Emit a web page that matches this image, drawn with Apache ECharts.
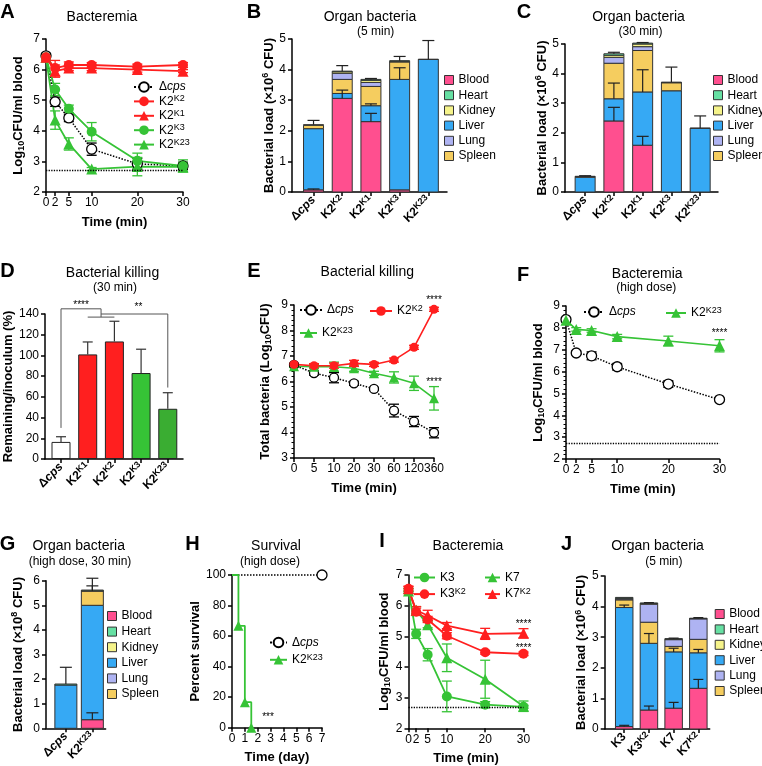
<!DOCTYPE html>
<html><head><meta charset="utf-8">
<script src="https://cdn.jsdelivr.net/npm/echarts@6/dist/echarts.min.js"></script>
<style>html,body{margin:0;padding:0;background:#fff}#c{width:762px;height:766px}</style>
</head><body><div id="c"></div>
<script>
// ================= DATA =================
const detectionLimit = 2.7;
const organs = ['Blood', 'Heart', 'Kidney', 'Liver', 'Lung', 'Spleen'];
const stackOrder = ['Blood', 'Liver', 'Spleen', 'Lung', 'Kidney', 'Heart'];

// A: Bacteremia
const timeA = [0, 2, 5, 10, 20, 30];
const aDcps = [6.45, 4.95, 4.42, 3.40, 2.92, 2.85];
const aDcpsErr = [0.08, 0.15, 0.12, 0.20, 0.18, 0.12];
const aK2K2 = [6.40, 6.05, 6.15, 6.15, 6.10, 6.15];
const aK2K2Err = [0.10, 0.25, 0.10, 0.08, 0.08, 0.08];
const aK2K1 = [6.40, 5.95, 6.05, 6.05, 6.00, 5.95];
const aK2K1Err = [0.10, 0.20, 0.08, 0.08, 0.08, 0.05];
const aK2K3 = [6.40, 5.35, 4.72, 3.97, 3.02, 2.85];
const aK2K3Err = [0.10, 0.20, 0.12, 0.30, 0.25, 0.20];
const aK2K23 = [6.40, 4.35, 3.57, 2.75, 2.83, 2.82];
const aK2K23Err = [0.10, 0.30, 0.20, 0.05, 0.30, 0.15];

// B: Organ bacteria (5 min)
const bGroups = ['Δcps', 'K2^K2', 'K2^K1', 'K2^K3', 'K2^K23'];
const bBlood  = [0.07, 3.06, 2.30, 0.07, 0.00];
const bHeart  = [0.00, 0.02, 0.03, 0.02, 0.01];
const bKidney = [0.02, 0.05, 0.07, 0.02, 0.00];
const bLiver  = [2.00, 0.16, 0.52, 3.61, 4.33];
const bLung   = [0.00, 0.20, 0.13, 0.00, 0.00];
const bSpleen = [0.11, 0.46, 0.63, 0.57, 0.00];
const bBloodErr = [0.03, 0.27, 0.27, 0.00, 0.00];
const bLiverErr = [0.00, 0.00, 0.06, 0.38, 0.00];
const bTopErr   = [0.14, 0.18, 0.03, 0.14, 0.61];

// C: Organ bacteria (30 min)
const cGroups = ['Δcps', 'K2^K2', 'K2^K1', 'K2^K3', 'K2^K23'];
const cBlood  = [0.00, 2.40, 1.58, 0.00, 0.00];
const cHeart  = [0.01, 0.05, 0.03, 0.01, 0.01];
const cKidney = [0.00, 0.07, 0.09, 0.01, 0.00];
const cLiver  = [0.50, 0.75, 1.80, 3.42, 2.15];
const cLung   = [0.00, 0.20, 0.13, 0.00, 0.00];
const cSpleen = [0.02, 1.20, 1.40, 0.27, 0.00];
const cBloodErr = [0.00, 0.46, 0.30, 0.00, 0.00];
const cLiverErr = [0.00, 0.53, 0.75, 0.00, 0.00];
const cTopErr   = [0.02, 0.05, 0.02, 0.51, 0.41];

// D: Bacterial killing (30 min)
const dGroups = ['Δcps', 'K2^K1', 'K2^K2', 'K2^K3', 'K2^K23'];
const dValues = [16.5, 101, 113.5, 83, 48.5];
const dErr = [5, 12, 19.5, 23, 15.5];
const dSigText = ['****', '**'];
const dSigX = [0.75, 2.9];
const dSigY = [150.5, 148];
const dBracketX = [[0, 0, 1.5, 1.5], [1, 2], [1.5, 4, 4]];
const dBracketY = [[30, 145, 145, 137], [137, 137], [140, 140, 69]];

// E: Bacterial killing (time course)
const eTimes = ['0', '5', '10', '20', '30', '60', '120', '360'];
const eDcps = [6.65, 6.33, 6.15, 5.93, 5.71, 4.86, 4.43, 3.99];
const eDcpsErr = [0.05, 0.08, 0.20, 0.08, 0.06, 0.25, 0.20, 0.20];
const eK2K2 = [6.67, 6.62, 6.62, 6.71, 6.67, 6.84, 7.34, 8.83];
const eK2K2Err = [0.05, 0.08, 0.10, 0.12, 0.08, 0.08, 0.08, 0.08];
const eK2K23 = [6.60, 6.58, 6.58, 6.52, 6.32, 6.16, 5.93, 5.34];
const eK2K23Err = [0.05, 0.08, 0.18, 0.12, 0.08, 0.22, 0.28, 0.46];
const eSigText = ['****', '****'];
const eSigX = [7, 7];
const eSigY = [9.27, 6.06];

// F: Bacteremia (high dose)
const timeF = [0, 2, 5, 10, 20, 30];
const fDcps = [8.38, 6.85, 6.72, 6.22, 5.43, 4.72];
const fDcpsErr = [0.08, 0.08, 0.18, 0.15, 0.15, 0.05];
const fK2K23 = [8.35, 7.93, 7.88, 7.60, 7.40, 7.18];
const fK2K23Err = [0.08, 0.08, 0.08, 0.10, 0.22, 0.28];
const fSigText = ['****'];
const fSigX = [30];
const fSigY = [7.84];

// G: Organ bacteria (high dose, 30 min)
const gGroups = ['Δcps', 'K2^K23'];
const gBlood  = [0.00, 0.35];
const gHeart  = [0.04, 0.03];
const gKidney = [0.00, 0.01];
const gLiver  = [1.76, 4.65];
const gLung   = [0.00, 0.00];
const gSpleen = [0.00, 0.58];
const gBloodErr  = [0.00, 0.28];
const gSpleenErr = [0.00, 0.21];
const gTopErr    = [0.68, 0.48];

// H: Survival (high dose)
const hDaysDcps = [0, 7];
const hDcps = [100, 100];
const hDaysK2K23 = [0, 0.5, 1, 1.5];
const hK2K23 = [100, 66.7, 16.7, 0];
const hSigText = ['***'];
const hSigX = [2.8];
const hSigY = [8.3];

// I: Bacteremia
const timeI = [0, 2, 5, 10, 20, 30];
const iK3 = [6.48, 5.08, 4.40, 3.04, 2.77, 2.70];
const iK3Err = [0.08, 0.15, 0.20, 0.50, 0.10, 0.05];
const iK3K2 = [6.55, 5.80, 5.55, 5.02, 4.48, 4.43];
const iK3K2Err = [0.08, 0.12, 0.10, 0.10, 0.06, 0.06];
const iK7 = [6.48, 5.85, 5.38, 4.30, 3.60, 2.72];
const iK7Err = [0.08, 0.12, 0.10, 0.45, 0.62, 0.17];
const iK7K2 = [6.55, 5.85, 5.68, 5.35, 5.08, 5.10];
const iK7K2Err = [0.08, 0.12, 0.17, 0.10, 0.18, 0.15];
const iSigText = ['****', '****'];
const iSigX = [30, 30];
const iSigY = [5.47, 4.68];

// J: Organ bacteria (5 min)
const jGroups = ['K3', 'K3^K2', 'K7', 'K7^K2'];
const jBlood  = [0.08, 0.62, 0.68, 1.33];
const jHeart  = [0.03, 0.02, 0.01, 0.01];
const jKidney = [0.02, 0.02, 0.02, 0.01];
const jLiver  = [3.89, 2.18, 1.84, 1.16];
const jLung   = [0.03, 0.59, 0.22, 0.67];
const jSpleen = [0.25, 0.69, 0.18, 0.44];
const jBloodErr = [0.04, 0.13, 0.19, 0.29];
const jLiverErr = [0.08, 0.32, 0.12, 0.11];
const jTopErr   = [0.00, 0.01, 0.02, 0.02];

// ================= STYLE =================
const FONT = '"Liberation Sans", Arial, Helvetica, sans-serif';
const RED = '#ff1f1f', GREEN = '#36c336', GREEN2 = '#3aad32';
const organColors = {Blood: '#ff4f8f', Heart: '#66e0a3', Kidney: '#f5f38a', Liver: '#36a9f4', Lung: '#aeb3f2', Spleen: '#f5cd5f'};

const richLab = {
  b: {fontFamily: FONT, fontWeight: 'bold', fontSize: 12, lineHeight: 14, color: '#000'},
  bi: {fontFamily: FONT, fontWeight: 'bold', fontStyle: 'italic', fontSize: 12, lineHeight: 14, color: '#000'},
  s: {fontFamily: FONT, fontWeight: 'bold', fontSize: 9, lineHeight: 6, verticalAlign: 'top', color: '#000'}
};
const richLeg = {
  n: {fontFamily: FONT, fontSize: 12, lineHeight: 14, color: '#000'},
  i: {fontFamily: FONT, fontSize: 12, fontStyle: 'italic', lineHeight: 14, color: '#000'},
  s: {fontFamily: FONT, fontSize: 9, lineHeight: 6, verticalAlign: 'top', color: '#000'}
};
const richName = {
  b: {fontFamily: FONT, fontWeight: 'bold', fontSize: 13, lineHeight: 16, color: '#000'},
  sub: {fontFamily: FONT, fontWeight: 'bold', fontSize: 9, lineHeight: 9, verticalAlign: 'bottom', color: '#000'},
  sup: {fontFamily: FONT, fontWeight: 'bold', fontSize: 9, lineHeight: 7, verticalAlign: 'top', color: '#000'}
};

function fmtLabel(s, bold) {
  const B = bold ? 'b' : 'n', I = bold ? 'bi' : 'i';
  if (s === 'Δcps') return '{' + B + '|Δ}{' + I + '|cps}';
  const parts = s.split('^');
  return parts[1] ? '{' + B + '|' + parts[0] + '}{s|' + parts[1] + '}' : '{' + B + '|' + parts[0] + '}';
}

// ================= GRIDS =================
const grids = [
  {left: 46, top: 39, width: 137, height: 153},      // A
  {left: 292, top: 39, width: 155, height: 153},     // B
  {left: 565, top: 44, width: 153, height: 148},     // C
  {left: 45, top: 314, width: 138, height: 145},     // D
  {left: 294, top: 305, width: 140, height: 153},    // E
  {left: 566, top: 306, width: 153.5, height: 153},  // F
  {left: 46, top: 580.7, width: 59.6, height: 147.6},// G
  {left: 232, top: 575, width: 90, height: 152.7},   // H
  {left: 408.5, top: 575, width: 115, height: 153.3},// I
  {left: 604.7, top: 576, width: 105, height: 153}   // J
];

const lineAx = {show: true, onZero: false, lineStyle: {color: '#000', width: 1.5}};
const tickAx = (vals) => {
  const t = {show: true, length: 4, lineStyle: {color: '#000', width: 1.5}};
  if (vals) t.customValues = vals;
  return t;
};
const nameStyle = {fontFamily: FONT, fontWeight: 'bold', fontSize: 13, color: '#000', rich: richName};

function xTime(gi, min, max, vals, fmt, name) {
  const lab = {color: '#000', fontSize: 12, fontFamily: FONT, margin: 5};
  if (vals) lab.customValues = vals;
  if (fmt) lab.formatter = fmt;
  return {gridIndex: gi, type: 'value', min, max, axisLine: lineAx, axisTick: tickAx(vals), axisLabel: lab,
    splitLine: {show: false}, name, nameLocation: 'middle', nameGap: 23.5, nameTextStyle: nameStyle};
}
function xBars(gi, min, max, groups) {
  const vals = groups.map((_, i) => i);
  return {gridIndex: gi, type: 'value', min, max, axisLine: lineAx, axisTick: tickAx(vals),
    axisLabel: {customValues: vals, rotate: 45, margin: 6, rich: richLab, fontFamily: FONT,
      formatter: (v) => fmtLabel(groups[Math.round(v)], true)},
    splitLine: {show: false}};
}
function yVal(gi, min, max, interval, name, gap, minor) {
  const ax = {gridIndex: gi, type: 'value', min, max, interval, axisLine: lineAx, axisTick: tickAx(),
    axisLabel: {color: '#000', fontSize: 12, fontFamily: FONT, margin: 6}, splitLine: {show: false},
    name, nameLocation: 'middle', nameGap: gap, nameRotate: 90, nameTextStyle: nameStyle};
  if (minor) ax.minorTick = {show: true, splitNumber: 5, length: 2.5, lineStyle: {color: '#000', width: 1}};
  return ax;
}

const logName = '{b|Log}{sub|10}{b|CFU/ml blood}';
const xAxes = [
  xTime(0, 0, 30, timeA, null, 'Time (min)'),
  xBars(1, -0.75, 4.65, bGroups),
  xBars(2, -0.7, 4.62, cGroups),
  xBars(3, -0.6, 4.57, dGroups),
  xTime(4, 0, 7, eTimes.map((_, i) => i), (v) => eTimes[Math.round(v)], 'Time (min)'),
  xTime(5, 0, 30, timeF, null, 'Time (min)'),
  xBars(6, -0.75, 1.5, gGroups),
  Object.assign(xTime(7, 0, 7, null, null, 'Time (day)'), {interval: 1}),
  xTime(8, 0, 30, timeI, null, 'Time (min)'),
  xBars(9, -0.79, 3.46, jGroups)
];
const yAxes = [
  yVal(0, 2, 7, 1, logName, 20),
  yVal(1, 0, 5, 1, '{b|Bacterial load (×10}{sup|6}{b| CFU)}', 14),
  yVal(2, 0, 5, 1, '{b|Bacterial load (×10}{sup|6}{b| CFU)}', 9),
  yVal(3, 0, 140, 20, '{b|Remaining/inoculum (%)}', 26),
  yVal(4, 3, 9, 1, '{b|Total bacteria (Log}{sub|10}{b|CFU)}', 21, true),
  yVal(5, 2, 9, 1, logName, 20, true),
  yVal(6, 0, 6, 1, '{b|Bacterial load (×10}{sup|8}{b| CFU)}', 20),
  yVal(7, 0, 100, 20, '{b|Percent survival}', 26),
  yVal(8, 2, 7, 1, logName, 16),
  yVal(9, 0, 5, 1, '{b|Bacterial load (×10}{sup|6}{b| CFU)}', 13)
];

// ================= SERIES =================
const series = [];

function errSeries(gi, xs, ys, errs, color, cap, upOnly, lw, z) {
  return {type: 'custom', xAxisIndex: gi, yAxisIndex: gi, z: z || 2, silent: true, clip: false,
    data: xs.map((x, i) => [x, ys[i], errs[i]]),
    renderItem: (p, api) => {
      const x = api.value(0), y = api.value(1), e = api.value(2);
      if (!(e > 0)) return null;
      const t = api.coord([x, y + e]), b = api.coord([x, upOnly ? y : y - e]);
      const st = {stroke: color, lineWidth: lw || 1.3, fill: null};
      const ch = [
        {type: 'line', shape: {x1: t[0], y1: t[1], x2: b[0], y2: b[1]}, style: st},
        {type: 'line', shape: {x1: t[0] - cap, y1: t[1], x2: t[0] + cap, y2: t[1]}, style: st}
      ];
      if (!upOnly) ch.push({type: 'line', shape: {x1: b[0] - cap, y1: b[1], x2: b[0] + cap, y2: b[1]}, style: st});
      return {type: 'group', children: ch};
    }};
}

function textSeries(gi, xs, ys, texts, size) {
  return {type: 'custom', xAxisIndex: gi, yAxisIndex: gi, z: 6, silent: true, clip: false,
    data: xs.map((x, i) => [x, ys[i]]),
    renderItem: (p, api) => {
      const c = api.coord([api.value(0), api.value(1)]);
      return {type: 'text', x: c[0], y: c[1] + 2, style: {text: texts[p.dataIndex], fill: '#000', fontSize: size,
        fontFamily: FONT, align: 'center', verticalAlign: 'middle', textAlign: 'center', textVerticalAlign: 'middle'}};
    }};
}

function addLines(gi, xs, specs, opt) {
  specs.forEach(s => {
    series.push(errSeries(gi, xs, s.ys, s.err, s.open ? '#000' : s.color, opt.cap, false, 1.3, 2));
  });
  specs.forEach((s, k) => {
    const ser = {
      type: 'line', name: s.name, xAxisIndex: gi, yAxisIndex: gi, z: 3, clip: false,
      data: xs.map((x, i) => [x, s.ys[i]]),
      symbol: s.sym || 'circle',
      symbolSize: s.sym === 'triangle' ? opt.sym + 1 : opt.sym,
      itemStyle: s.open ? {color: '#fff', borderColor: '#000', borderWidth: 1.3} : {color: s.color},
      lineStyle: s.open ? {color: '#000', type: 'dotted', width: 1.5} : {color: s.color, width: opt.lw}
    };
    if (k === 0 && opt.limit) {
      ser.markLine = {silent: true, symbol: ['none', 'none'], label: {show: false},
        lineStyle: {color: '#000', type: 'dotted', width: 1.3}, data: [{yAxis: detectionLimit}]};
    }
    series.push(ser);
  });
}

function addStack(gi, organData, errData, barW, cap) {
  const n = organData.Blood.length;
  const cum = new Array(n).fill(0);
  const tops = {};
  stackOrder.forEach(org => {
    const vals = organData[org];
    const rows = vals.map((v, i) => { const b = cum[i]; cum[i] += v; return [i, b, cum[i]]; });
    tops[org] = cum.slice();
    const col = organColors[org];
    series.push({type: 'custom', name: org, xAxisIndex: gi, yAxisIndex: gi, z: 2, clip: false,
      itemStyle: {color: col, borderColor: '#333', borderWidth: 1},
      data: rows, encode: {x: 0, y: [1, 2]},
      renderItem: (p, api) => {
        const x = api.value(0), b = api.value(1), t = api.value(2);
        if (!(t > b)) return null;
        const p0 = api.coord([x, b]), p1 = api.coord([x, t]);
        return {type: 'rect', shape: {x: p0[0] - barW / 2, y: p1[1], width: barW, height: p0[1] - p1[1]},
          style: {fill: col, stroke: '#333', lineWidth: 1}};
      }});
  });
  Object.keys(errData).forEach(k => {
    const base = k === 'top' ? cum : tops[k];
    series.push(errSeries(gi, base.map((_, i) => i), base, errData[k], '#222', cap, true, 1.2, 4));
  });
}

// A
addLines(0, timeA, [
  {name: 'A:Δcps', ys: aDcps, err: aDcpsErr, open: true},
  {name: 'A:K2^K3', ys: aK2K3, err: aK2K3Err, color: GREEN, sym: 'circle'},
  {name: 'A:K2^K23', ys: aK2K23, err: aK2K23Err, color: GREEN, sym: 'triangle'},
  {name: 'A:K2^K1', ys: aK2K1, err: aK2K1Err, color: RED, sym: 'triangle'},
  {name: 'A:K2^K2', ys: aK2K2, err: aK2K2Err, color: RED, sym: 'circle'}
], {cap: 5, sym: 10, lw: 1.8, limit: true});

// B, C
addStack(1, {Blood: bBlood, Heart: bHeart, Kidney: bKidney, Liver: bLiver, Lung: bLung, Spleen: bSpleen},
  {Blood: bBloodErr, Liver: bLiverErr, top: bTopErr}, 20, 6);
addStack(2, {Blood: cBlood, Heart: cHeart, Kidney: cKidney, Liver: cLiver, Lung: cLung, Spleen: cSpleen},
  {Blood: cBloodErr, Liver: cLiverErr, top: cTopErr}, 20, 6);

// D
const dColors = ['#ffffff', RED, RED, GREEN, GREEN2];
series.push({type: 'bar', xAxisIndex: 3, yAxisIndex: 3, barWidth: 19, z: 2,
  itemStyle: {borderColor: '#222', borderWidth: 1},
  data: dValues.map((v, i) => ({value: [i, v], itemStyle: {color: dColors[i]}}))});
series.push(errSeries(3, dValues.map((_, i) => i), dValues, dErr, '#333', 5, true, 1.2, 4));
series.push({type: 'custom', xAxisIndex: 3, yAxisIndex: 3, z: 5, silent: true, clip: false,
  data: dBracketX.map((_, i) => [i, 0]),
  renderItem: (p, api) => {
    const i = p.dataIndex;
    const pts = dBracketX[i].map((x, k) => api.coord([x, dBracketY[i][k]]));
    return {type: 'polyline', shape: {points: pts}, style: {stroke: '#555', lineWidth: 1, fill: null}};
  }});
series.push(textSeries(3, dSigX, dSigY, dSigText, 10));

// E
addLines(4, eTimes.map((_, i) => i), [
  {name: 'E:Δcps', ys: eDcps, err: eDcpsErr, open: true},
  {name: 'E:K2^K23', ys: eK2K23, err: eK2K23Err, color: GREEN, sym: 'triangle'},
  {name: 'E:K2^K2', ys: eK2K2, err: eK2K2Err, color: RED, sym: 'circle'}
], {cap: 5, sym: 9, lw: 1.6});
series.push(textSeries(4, eSigX, eSigY, eSigText, 10));

// F
addLines(5, timeF, [
  {name: 'F:Δcps', ys: fDcps, err: fDcpsErr, open: true},
  {name: 'F:K2^K23', ys: fK2K23, err: fK2K23Err, color: GREEN, sym: 'triangle'}
], {cap: 5, sym: 10, lw: 1.6, limit: true});
series.push(textSeries(5, fSigX, fSigY, fSigText, 10));

// G
addStack(6, {Blood: gBlood, Heart: gHeart, Kidney: gKidney, Liver: gLiver, Lung: gLung, Spleen: gSpleen},
  {Blood: gBloodErr, Spleen: gSpleenErr, top: gTopErr}, 22, 6);

// H
series.push({type: 'line', name: 'H:Δcps', xAxisIndex: 7, yAxisIndex: 7, z: 3, clip: false,
  data: hDaysDcps.map((d, i) => ({value: [d, hDcps[i]], symbol: i === hDaysDcps.length - 1 ? 'circle' : 'none'})),
  symbol: 'circle', symbolSize: 10,
  itemStyle: {color: '#fff', borderColor: '#000', borderWidth: 1.3},
  lineStyle: {color: '#000', type: 'dotted', width: 1.5}});
series.push({type: 'line', name: 'H:K2^K23', step: 'end', xAxisIndex: 7, yAxisIndex: 7, z: 4, clip: false,
  data: hDaysK2K23.map((d, i) => ({value: [d, hK2K23[i]], symbol: i === 0 ? 'none' : 'triangle'})),
  symbol: 'triangle', symbolSize: 10,
  itemStyle: {color: GREEN}, lineStyle: {color: GREEN, width: 1.8}});
series.push(textSeries(7, hSigX, hSigY, hSigText, 10));

// I
addLines(8, timeI, [
  {name: 'I:K3', ys: iK3, err: iK3Err, color: GREEN, sym: 'circle'},
  {name: 'I:K7', ys: iK7, err: iK7Err, color: GREEN, sym: 'triangle'},
  {name: 'I:K3^K2', ys: iK3K2, err: iK3K2Err, color: RED, sym: 'circle'},
  {name: 'I:K7^K2', ys: iK7K2, err: iK7K2Err, color: RED, sym: 'triangle'}
], {cap: 5, sym: 10, lw: 1.8, limit: true});
series.push(textSeries(8, iSigX, iSigY, iSigText, 10));

// J
addStack(9, {Blood: jBlood, Heart: jHeart, Kidney: jKidney, Liver: jLiver, Lung: jLung, Spleen: jSpleen},
  {Blood: jBloodErr, Liver: jLiverErr, top: jTopErr}, 17.5, 5);

// ================= LEGENDS =================
function lineLegend(names, left, top, itemWidth, gap, orient) {
  return {data: names, left, top, orient: orient || 'vertical', itemWidth, itemHeight: 12, itemGap: gap || 0,
    padding: 0, selectedMode: false,
    formatter: (n) => fmtLabel(n.slice(n.indexOf(':') + 1), false),
    textStyle: {fontFamily: FONT, fontSize: 12, color: '#000', rich: richLeg}};
}
function organLegend(left, top, gap) {
  return {data: organs, left, top, orient: 'vertical', icon: 'rect', itemWidth: 9, itemHeight: 9, itemGap: gap,
    padding: 0, selectedMode: false, itemStyle: {borderColor: '#333', borderWidth: 1},
    formatter: (n) => '{n|' + n + '}',
    textStyle: {fontFamily: FONT, fontSize: 12, color: '#000', rich: richLeg}};
}
const legends = [
  lineLegend(['A:Δcps', 'A:K2^K2', 'A:K2^K1', 'A:K2^K3', 'A:K2^K23'], 133, 81, 20, 1.4),
  organLegend(444, 74, 3.2),
  organLegend(713, 74, 3.2),
  lineLegend(['E:Δcps'], 299, 304, 22),
  lineLegend(['E:K2^K2'], 369, 304, 22),
  lineLegend(['E:K2^K23'], 299, 326, 17),
  lineLegend(['F:Δcps'], 583, 306, 20),
  lineLegend(['F:K2^K23'], 665, 306, 20),
  organLegend(107, 610, 3.6),
  lineLegend(['H:Δcps', 'H:K2^K23'], 269, 636.5, 17, 4.3),
  lineLegend(['I:K3', 'I:K3^K2'], 413, 571.5, 21, 3.6),
  lineLegend(['I:K7', 'I:K7^K2'], 484, 571.5, 15, 3.6),
  organLegend(714.7, 608, 3.4)
];

// ================= TITLES / PANEL LETTERS =================
const letters = [['A', 7.5, 12], ['B', 254, 12], ['C', 524, 12], ['D', 7.5, 271], ['E', 254, 271], ['F', 523, 275],
  ['G', 7.5, 544], ['H', 192.5, 544], ['I', 382, 541], ['J', 566.5, 544]];
const mainTitles = [['Bacteremia', 102, 17], ['Organ bacteria', 370, 16.7], ['Organ bacteria', 638.5, 16.7],
  ['Bacterial killing', 112.5, 273], ['Bacterial killing', 367.3, 272.5], ['Bacteremia', 647.2, 273.7],
  ['Organ bacteria', 78.7, 545.7], ['Survival', 276, 545.7], ['Bacteremia', 468, 546], ['Organ bacteria', 657.5, 545.7]];
const subTitles = [['(5 min)', 375.7, 32], ['(30 min)', 640.5, 32], ['(30 min)', 115, 287.5], ['(high dose)', 646.3, 287.5],
  ['(high dose, 30 min)', 80, 561.7], ['(high dose)', 270, 562], ['(5 min)', 663.8, 562]];

function gText(t, x, y, size, weight) {
  return {type: 'text', x, y, silent: true, style: {text: t, fill: '#000', fontSize: size, fontWeight: weight,
    fontFamily: FONT, align: 'center', verticalAlign: 'middle', textAlign: 'center', textVerticalAlign: 'middle'}};
}
const graphics = [].concat(
  letters.map(l => gText(l[0], l[1], l[2], 20, 'bold')),
  mainTitles.map(l => gText(l[0], l[1], l[2], 14, 'normal')),
  subTitles.map(l => gText(l[0], l[1], l[2], 12, 'normal'))
);

const chart = echarts.init(document.getElementById('c'), null, {renderer: 'canvas'});
chart.setOption({
  animation: false,
  backgroundColor: '#fff',
  textStyle: {fontFamily: FONT},
  grid: grids,
  xAxis: xAxes,
  yAxis: yAxes,
  legend: legends,
  series,
  graphic: graphics
});
</script>
</body></html>
